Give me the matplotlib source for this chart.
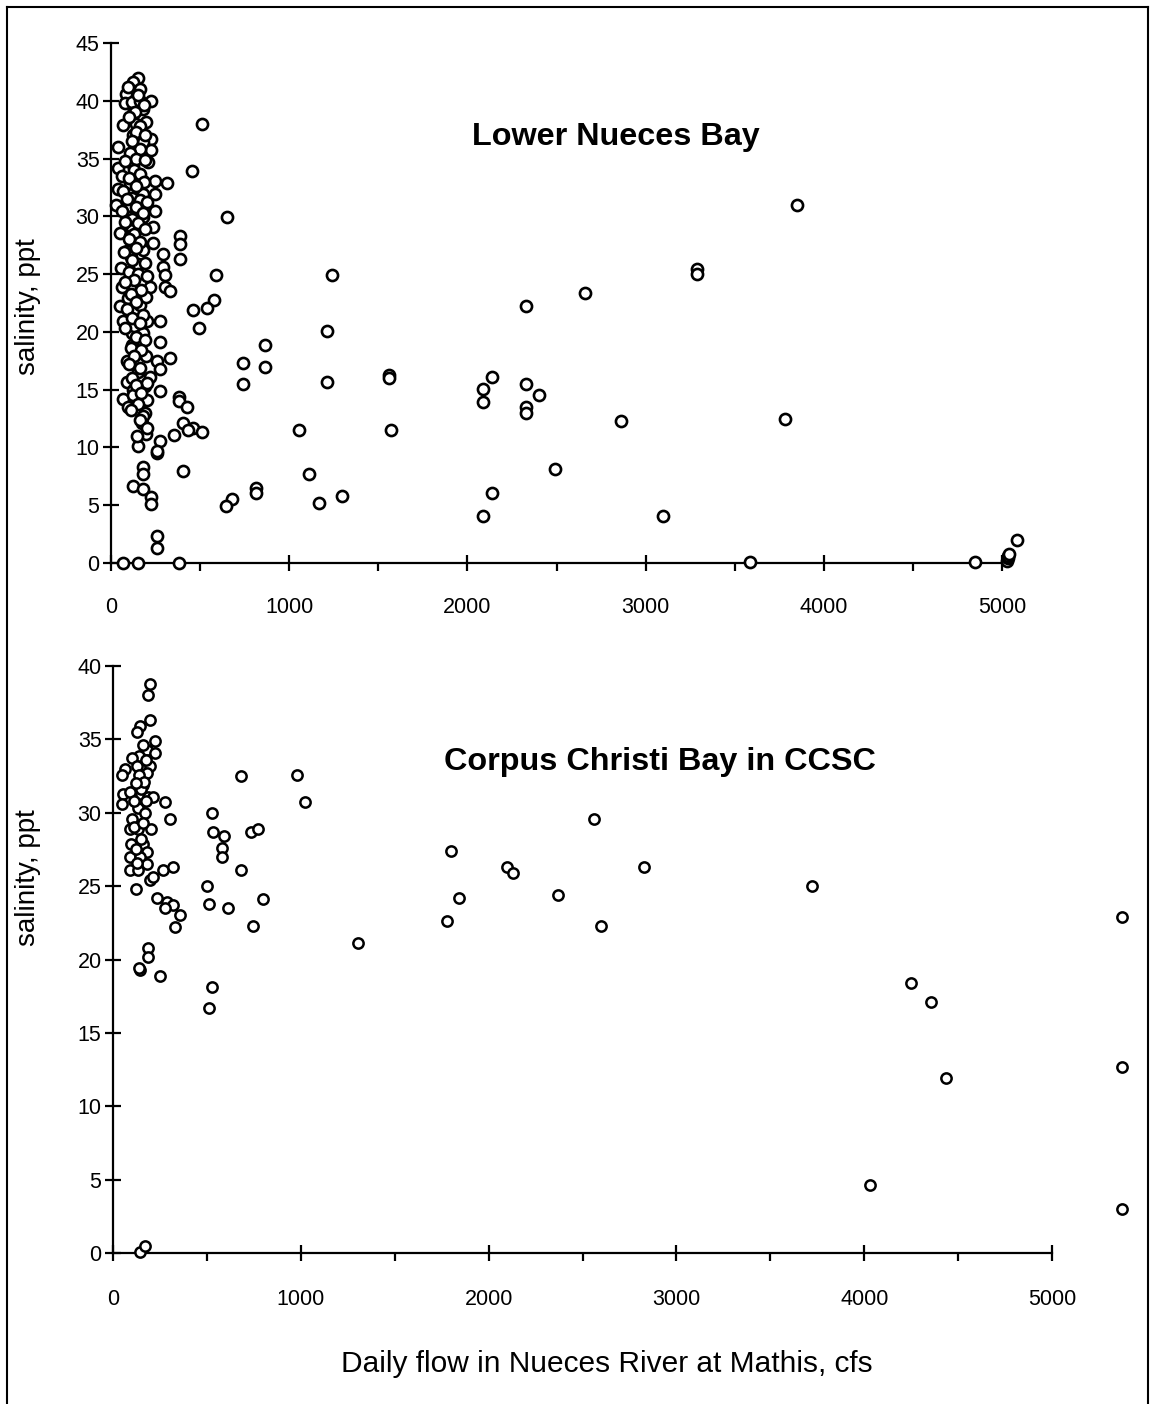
import matplotlib
matplotlib.use("Agg")
import matplotlib.pyplot as plt
from matplotlib.lines import Line2D
from matplotlib.ticker import FixedLocator

plt.rcParams['font.family'] = ['Liberation Sans', 'DejaVu Sans']

W, H = 1151, 1404

# Lower Nueces Bay: daily flow (cfs) and salinity (ppt)
flow_lower = [
	153, 125, 112, 163, 84, 79, 116, 163, 223, 178, 122, 69, 140, 196, 509,
	122, 223, 41, 181, 224, 112, 206, 41, 125, 456, 178, 247, 316, 107, 41,
	116, 178, 247, 28, 97, 247, 649, 107, 178, 51, 238, 116, 387, 107, 387,
	238, 178, 88, 294, 112, 387, 153, 294, 56, 303, 589, 1238, 107, 219, 303,
	60, 331, 576,
	51, 97, 163, 196, 462, 537, 69, 116, 129, 204, 275, 178, 496, 1210, 116,
	275, 864, 88, 140, 196, 260, 331, 275, 739, 864, 153, 219, 88, 191, 122,
	275, 739, 1210, 69, 122, 204, 97, 383, 383, 425, 191, 172, 196, 402, 458,
	430, 509, 355, 1057, 275, 260, 260, 153, 178, 178, 402, 1113, 122, 178, 814,
	814, 223, 223, 677, 645, 1169, 1294, 260, 260, 69, 153, 383,
	1560, 1560, 1570, 2085, 2085, 2140, 2090, 2140, 2330, 2330, 2330, 2330, 2400,
	2490, 2660, 2860, 3100, 3290, 3290, 3586, 3780, 3850, 4848, 5030, 5034, 5036,
	5040, 5084,
	95, 150, 185, 135, 100, 165, 140, 190, 120, 160, 105, 140, 190, 80, 130,
	160, 60, 100, 185, 140, 70, 120, 160, 200, 90, 140, 60, 180, 120, 150,
	80, 190, 130, 100, 165, 140, 75, 120, 190, 100, 150, 200, 130, 80, 170,
	110, 140, 90, 180, 120, 160, 80, 140, 190, 110, 170, 130, 100, 160, 120,
	200, 140, 170, 150, 110, 180, 160, 200, 145,
]
sal_lower = [
	42.0, 41.6, 40.9, 41.0, 40.6, 39.8, 39.9, 40.0, 40.0, 39.3, 38.9, 37.9, 38.0, 38.2, 38.0,
	37.0, 36.7, 36.0, 36.4, 35.7, 35.2, 34.7, 34.2, 34.4, 33.9, 33.1, 33.1, 32.9, 32.9, 32.4,
	31.9, 31.9, 31.9, 31.0, 30.9, 30.5, 29.9, 29.9, 29.9, 28.6, 29.1, 28.8, 28.3, 28.3, 27.6,
	27.7, 27.1, 27.0, 26.7, 26.5, 26.3, 25.9, 25.6, 25.5, 24.9, 24.9, 24.9, 23.9, 23.9, 23.9,
	23.9, 23.5, 22.8,
	22.2, 22.9, 22.3, 23.0, 21.9, 22.1, 20.9, 19.9, 20.5, 20.9, 20.9, 19.9, 20.3, 20.1, 18.9,
	19.1, 18.9, 17.5, 18.1, 17.9, 17.5, 17.7, 16.8, 17.3, 17.0, 16.5, 16.1, 15.7, 15.3, 15.0,
	14.9, 15.5, 15.7, 14.2, 14.5, 14.1, 13.5, 14.4, 14.0, 13.5, 13.0, 12.1, 11.2, 12.1, 11.7,
	11.5, 11.3, 11.1, 11.5, 10.6, 9.5, 9.7, 10.1, 8.3, 7.7, 8.0, 7.7, 6.7, 6.4, 6.5,
	6.1, 5.7, 5.1, 5.5, 4.9, 5.2, 5.8, 2.3, 1.3, 0.0, 0.0, 0.0,
	16.3, 16.0, 11.5, 15.1, 13.9, 16.1, 4.1, 6.1, 22.2, 15.5, 13.5, 13.0, 14.5,
	8.1, 23.4, 12.3, 4.1, 25.4, 25.0, 0.1, 12.5, 31.0, 0.1, 0.2, 0.4, 0.6,
	0.8, 2.0,
	41.2, 40.5, 39.6, 39.0, 38.6, 37.8, 37.3, 37.0, 36.5, 35.8, 35.5, 35.0, 34.9, 34.8, 34.0,
	33.7, 33.5, 33.3, 33.0, 32.6, 32.2, 31.6, 31.4, 31.2, 31.5, 30.8, 30.5, 30.3, 29.8, 29.4,
	29.5, 28.9, 28.5, 28.0, 27.8, 27.3, 26.9, 26.2, 26.0, 25.2, 25.0, 24.8, 24.5, 24.3, 23.6,
	23.3, 22.6, 22.0, 21.5, 21.2, 20.8, 20.3, 19.6, 19.3, 18.6, 18.4, 17.9, 17.2, 16.9, 16.0,
	15.6, 15.4, 14.7, 13.8, 13.2, 12.7, 12.4, 11.7, 11.0,
]

# Corpus Christi Bay in CCSC
flow_ccsc = [
	197, 185, 197, 144, 130, 224, 183, 224, 140, 100, 64, 46, 130, 197, 183,
	140, 158, 55, 90, 149, 188, 215, 277, 46, 135, 170, 304, 100, 525, 682,
	981, 1022, 90, 135, 201, 534, 591, 733, 774, 579, 579, 94, 158, 183, 90,
	144, 183, 90, 135, 265, 318, 682, 197, 215, 122, 499, 513, 797, 614, 747,
	236, 289, 318, 277, 357, 330, 1306, 185, 185,
	144, 140, 249, 525, 513, 144, 170,
	1780, 1800, 1840, 2100, 2130, 2370, 2560, 2600, 2830, 3720,
	4250, 4357, 4434, 4032, 5371, 5371, 5371,
	150, 165, 120, 175, 110, 160, 120, 150, 130, 175, 160, 110,
]
sal_ccsc = [
	38.8, 38.0, 36.3, 35.9, 35.5, 34.9, 34.3, 34.1, 33.9, 33.7, 33.0, 32.6, 33.2, 33.2, 32.7,
	32.6, 31.9, 31.3, 31.4, 31.3, 31.1, 31.1, 30.7, 30.6, 30.3, 30.0, 29.6, 29.6, 30.0, 32.5,
	32.6, 30.7, 28.9, 28.9, 28.9, 28.7, 28.4, 28.7, 28.9, 27.6, 27.0, 27.9, 27.9, 27.3, 27.0,
	27.0, 26.5, 26.1, 26.1, 26.1, 26.3, 26.1, 25.4, 25.6, 24.8, 25.0, 23.8, 24.1, 23.5, 22.3,
	24.2, 23.9, 23.7, 23.5, 23.0, 22.2, 21.1, 20.8, 20.2,
	19.3, 19.4, 18.9, 18.1, 16.7, 0.1, 0.5,
	22.6, 27.4, 24.2, 26.3, 25.9, 24.4, 29.6, 22.3, 26.3, 25.0,
	18.4, 17.1, 11.9, 4.6, 12.7, 3.0, 22.9,
	31.6, 32.1, 32.0, 33.6, 29.0, 29.3, 27.5, 28.2, 26.6, 30.8, 34.6, 30.8,
]

x_major = [0, 1000, 2000, 3000, 4000, 5000]
x_minor = [500, 1500, 2500, 3500, 4500]


def fig_pos(x, y):
	return x / W, 1 - y / H


def style_axis(ax, xmax, ymax, label_pad):
	ax.set_xlim(0, xmax)
	ax.set_ylim(0, ymax)
	for s in ["top", "right"]:
		ax.spines[s].set_visible(False)
	ax.spines["left"].set_bounds(0, ymax)
	ax.spines["bottom"].set_bounds(0, 5000)
	for s in ["left", "bottom"]:
		ax.spines[s].set_linewidth(1.6)
	ax.xaxis.set_major_locator(FixedLocator(x_major))
	ax.xaxis.set_minor_locator(FixedLocator(x_minor))
	ax.yaxis.set_major_locator(FixedLocator(list(range(0, ymax + 1, 5))))
	ax.tick_params(axis="y", direction="inout", length=11.5, width=1.6, pad=2.5, labelsize=15.5)
	ax.tick_params(axis="x", which="major", direction="inout", length=11.5, width=1.6,
				pad=label_pad, labelsize=15.5)
	ax.tick_params(axis="x", which="minor", direction="out", length=5.8, width=1.6)
	ax.patch.set_visible(False)


fig = plt.figure(figsize=(W / 100, H / 100), dpi=100)

# top panel: x 0 -> 111 px, 5000 -> 1002 px ; y 0 -> 563 px, 45 -> 43 px
ax1 = fig.add_axes([111 / W, 1 - 563 / H, 5500 * 0.1782 / W, 520 / H])
style_axis(ax1, 5500, 45, 19)
ax1.plot(flow_lower, sal_lower, "o", ms=8.0, mfc="white", mec="black", mew=1.9,
		ls="none", clip_on=False, zorder=3)

# bottom panel: x 0 -> 113 px, 5000 -> 1052 px ; y 0 -> 1253 px, 40 -> 666 px
ax2 = fig.add_axes([113 / W, 1 - 1253 / H, 5450 * 0.1878 / W, 587 / H])
style_axis(ax2, 5450, 40, 20)
ax2.plot(flow_ccsc, sal_ccsc, "o", ms=7.4, mfc="white", mec="black", mew=1.8,
		ls="none", clip_on=False, zorder=3)

fig.text(*fig_pos(616, 145), "Lower Nueces Bay", ha="center", va="baseline",
		fontsize=23.3, fontweight="bold")
fig.text(*fig_pos(660, 770), "Corpus Christi Bay in CCSC", ha="center", va="baseline",
		fontsize=23.3, fontweight="bold")

fig.text(*fig_pos(28, 307), "salinity, ppt", rotation=90, ha="center", va="center", fontsize=20)
fig.text(*fig_pos(28, 878), "salinity, ppt", rotation=90, ha="center", va="center", fontsize=20)
fig.text(*fig_pos(607, 1372), "Daily flow in Nueces River at Mathis, cfs", ha="center",
		va="baseline", fontsize=21.5)

# outer frame (bottom edge is cut off in the original)
fig.add_artist(Line2D([7 / W, 7 / W], [0, 1 - 7 / H], transform=fig.transFigure, color="black", lw=1.5))
fig.add_artist(Line2D([7 / W, 1148 / W], [1 - 7 / H, 1 - 7 / H], transform=fig.transFigure, color="black", lw=1.5))
fig.add_artist(Line2D([1148 / W, 1148 / W], [0, 1 - 7 / H], transform=fig.transFigure, color="black", lw=1.5))

fig.savefig("out.png", dpi=100)
